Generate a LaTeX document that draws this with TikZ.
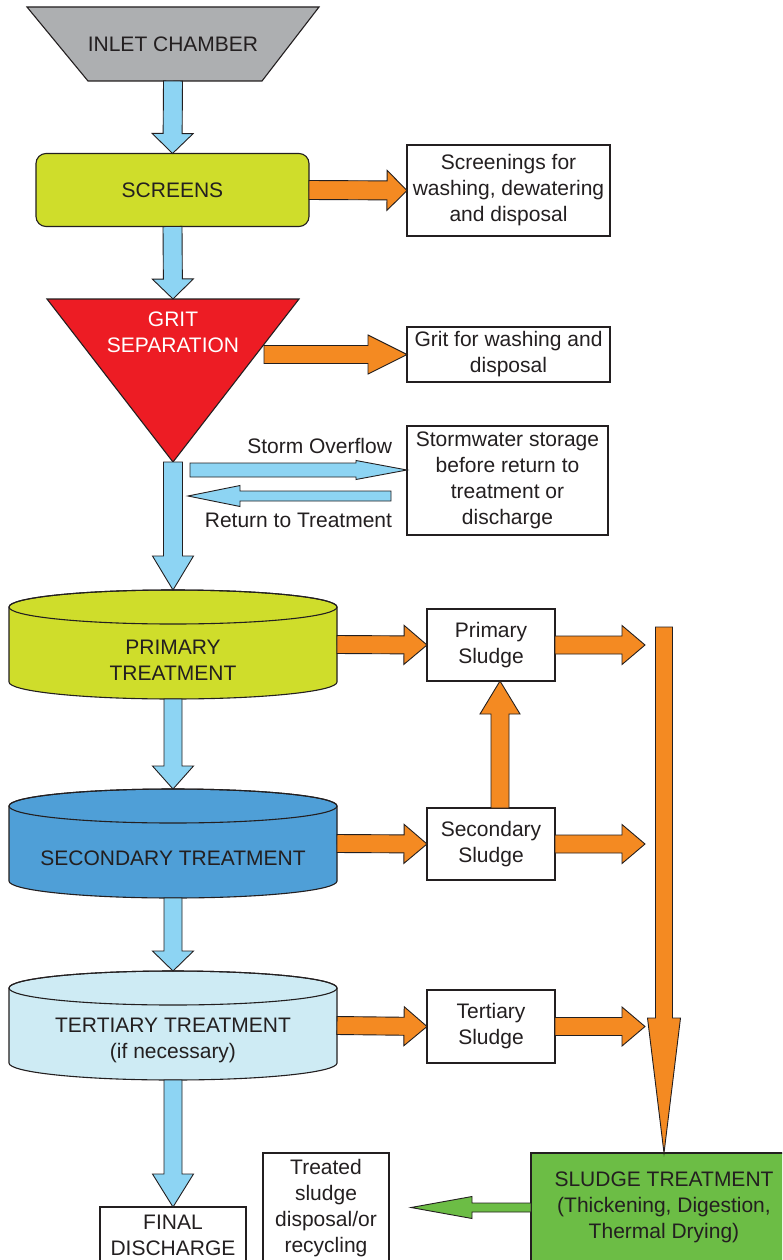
\documentclass[tikz,border=0pt]{standalone}
\usepackage{fontspec}
\setmainfont{Liberation Sans}
\usetikzlibrary{calc}
\pgfdeclarelayer{bg}
\pgfdeclarelayer{paper}
\pgfsetlayers{paper,bg,main}
\definecolor{ink}{HTML}{231F20}
\definecolor{inletgray}{HTML}{ADAFB1}
\definecolor{lime}{HTML}{CFDD2B}
\definecolor{gritred}{HTML}{ED1C24}
\definecolor{flowblue}{HTML}{8DD4F3}
\definecolor{sludgeorange}{HTML}{F48A22}
\definecolor{secblue}{HTML}{4F9FD7}
\definecolor{terblue}{HTML}{CEEBF4}
\definecolor{sludgegreen}{HTML}{6CBD45}
\tikzset{
  arrowline/.style={draw=ink, line width=0.9pt},
  flow/.style={fill=flowblue},
  sludgeflow/.style={fill=sludgeorange},
  greenflow/.style={fill=sludgegreen},
  shapeline/.style={draw=ink, line width=1.1pt},
  box/.style={draw=ink, line width=1.1pt, fill=white, inner sep=0pt, outer sep=0pt, align=center},
  plain/.style={inner sep=0pt, outer sep=0pt, align=center},
}
% #1 style, #2 start, #3 tip, #4 shaft half width, #5 head half width, #6 head length
\newcommand\blockarrow[6][]{%
  \draw[arrowline,#1] ($(#2)!#4!90:(#3)$) -- ($(#3)!#6!(#2)!#4!90:(#3)$)
    -- ($(#3)!#6!(#2)!#5!90:(#3)$) -- (#3) -- ($(#3)!#6!(#2)!#5!-90:(#3)$)
    -- ($(#3)!#6!(#2)!#4!-90:(#3)$) -- ($(#2)!#4!-90:(#3)$) -- cycle;}
\newcommand\drawtank[2]{%
  \begin{pgfonlayer}{bg}
  \draw[shapeline, fill=#2] ($(#1.north west)+(0,17)$) -- ($(#1.south west)+(0,-17)$)
    arc[start angle=180, end angle=360, x radius=164pt, y radius=17pt]
    -- ($(#1.north east)+(0,17)$)
    arc[start angle=0, end angle=180, x radius=164pt, y radius=17pt] -- cycle;
  \draw[shapeline] ($(#1.north)+(0,17)$) ellipse[x radius=164pt, y radius=17pt];
  \end{pgfonlayer}}
\begin{document}
\begin{tikzpicture}[x=1pt, y=-1pt, font=\fontsize{21}{26}\selectfont, text=ink]
\useasboundingbox (0,0) rectangle (782,1260);
\clip (0,0) rectangle (782,1260);
\begin{pgfonlayer}{paper}
\fill[white] (0,0) rectangle (782,1260);
\end{pgfonlayer}

% inlet chamber
\node[plain, minimum width=174pt, minimum height=74pt] (inlet) at (173,44) {INLET CHAMBER};
\begin{pgfonlayer}{bg}
\draw[shapeline, fill=inletgray] (27,7) -- (319,7) -- (262,81) -- (88,81) -- cycle;
\end{pgfonlayer}

% screens
\node[shapeline, fill=lime, rounded corners=10pt, minimum width=273pt, minimum height=73pt, inner sep=0pt, outer sep=0pt] (screens) at (172.5,190) {SCREENS};
\node[box, minimum width=203pt, minimum height=91pt] (scrbox) at (508.5,190.5) {Screenings for\\washing, dewatering\\and disposal};

% grit separation
\coordinate (gritTop) at (173,299);
\coordinate (gritTip) at (173,462);
\coordinate (gritR) at (264,354.5);
\begin{pgfonlayer}{bg}
\draw[shapeline, fill=gritred] (47,299) -- (299,299) -- (gritTip) -- cycle;
\end{pgfonlayer}
\node[plain, text=white] (grit) at (173,332) {GRIT\\SEPARATION};
\node[box, minimum width=203pt, minimum height=55pt] (gritbox) at (508.5,354.5) {Grit for washing and\\disposal};

% storm
\node[box, minimum width=201pt, minimum height=109pt] (storm) at (507.5,480.5) {Stormwater storage\\before return to\\treatment or\\discharge};
\coordinate (soS) at (190,470);
\coordinate (soT) at (storm.west |- soS);
\coordinate (rtS) at (391,496);
\coordinate (rtT) at (188,496);
\node[plain, anchor=east] (solbl) at (392,446) {Storm Overflow};
\node[plain, anchor=east] (rtlbl) at (392,520) {Return to Treatment};

% tanks
\node[plain, minimum width=328pt, minimum height=109pt] (prim) at (173,644.5) {};
\node[plain] (primtxt) at (173,660.5) {PRIMARY\\TREATMENT};
\drawtank{prim}{lime}
\node[plain, minimum width=328pt, minimum height=109pt] (sec) at (173,843.5) {};
\node[plain] (sectxt) at (173,858) {SECONDARY TREATMENT};
\drawtank{sec}{secblue}
\node[plain, minimum width=328pt, minimum height=109pt] (ter) at (173,1025.5) {};
\node[plain] (tertxt) at (173,1040.5) {TERTIARY TREATMENT\\(if necessary)};
\drawtank{ter}{terblue}

% sludge boxes
\node[box, minimum width=128pt, minimum height=72pt] (psl) at (491,645) {Primary\\Sludge};
\node[box, minimum width=128pt, minimum height=72pt] (ssl) at (491,844) {Secondary\\Sludge};
\node[box, minimum width=128pt, minimum height=73pt] (tsl) at (491,1026.5) {Tertiary\\Sludge};
\coordinate (pslT) at (645,645);
\coordinate (sslT) at (645,844);
\coordinate (tslT) at (645,1026.5);
\coordinate (upS) at ([xshift=9pt]ssl.north);
\coordinate (upT) at ([xshift=9pt]psl.south);
\coordinate (barTop) at (664,627);

% bottom row
\node[shapeline, fill=sludgegreen, inner sep=0pt, outer sep=0pt, align=center, minimum width=266pt, minimum height=109pt] (sludge) at (664,1207.5) {SLUDGE TREATMENT\\(Thickening, Digestion,\\Thermal Drying)};
\node[box, minimum width=126pt, minimum height=111pt] (treated) at (326,1208.5) {Treated\\sludge\\disposal/or\\recycling};
\node[box, minimum width=146pt, minimum height=56pt] (final) at (173,1235) {FINAL\\DISCHARGE};
\coordinate (grT) at (411,1207.5);

% blue flow arrows
\blockarrow[flow]{inlet.south}{screens.north}{9.5pt}{20.5pt}{20pt}
\blockarrow[flow]{screens.south}{gritTop}{9.5pt}{20.5pt}{20pt}
\blockarrow[flow]{gritTip}{prim.north}{9.5pt}{20.5pt}{34pt}
\blockarrow[flow]{prim.south}{sec.north}{9pt}{20.5pt}{23pt}
\blockarrow[flow]{sec.south}{ter.north}{9pt}{20.5pt}{20pt}
\blockarrow[flow]{ter.south}{final.north}{9pt}{20.5pt}{33pt}
\blockarrow[flow]{soS}{soT}{7pt}{9.5pt}{51pt}
\blockarrow[flow]{rtS}{rtT}{5pt}{10.5pt}{52pt}

% orange sludge arrows
\blockarrow[sludgeflow]{screens.east}{scrbox.west}{9.5pt}{20pt}{20pt}
\blockarrow[sludgeflow]{gritR}{gritbox.west}{9pt}{19.5pt}{39pt}
\blockarrow[sludgeflow]{prim.east}{psl.west}{9pt}{19.5pt}{23pt}
\blockarrow[sludgeflow]{sec.east}{ssl.west}{9pt}{19.5pt}{23pt}
\blockarrow[sludgeflow]{ter.east}{tsl.west}{9pt}{19.5pt}{23pt}
\blockarrow[sludgeflow]{psl.east}{pslT}{9pt}{19.5pt}{23pt}
\blockarrow[sludgeflow]{ssl.east}{sslT}{9pt}{19.5pt}{23pt}
\blockarrow[sludgeflow]{tsl.east}{tslT}{9pt}{19.5pt}{23pt}
\blockarrow[sludgeflow]{upS}{upT}{9pt}{20pt}{33pt}
\blockarrow[sludgeflow]{barTop}{sludge.north}{8.5pt}{16.5pt}{135pt}

% green arrow
\blockarrow[greenflow]{sludge.west}{grT}{4.5pt}{11pt}{61pt}
\end{tikzpicture}
\end{document}
